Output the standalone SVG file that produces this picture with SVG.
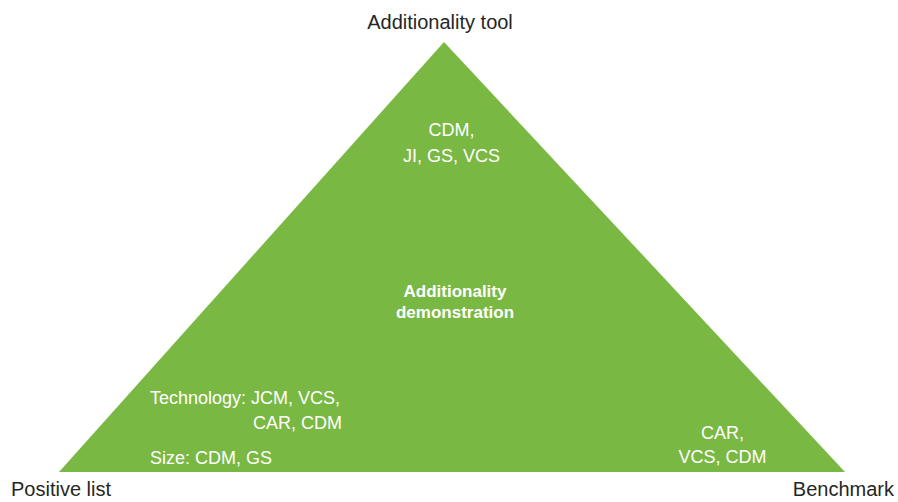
<svg xmlns="http://www.w3.org/2000/svg" width="898" height="502" viewBox="0 0 898 502">
<style>
.lbl{font-family:"Liberation Sans",Arial,sans-serif;font-size:20px;fill:#262626}
.w{font-family:"Liberation Sans",Arial,sans-serif;font-size:18px;fill:#ffffff}
.b{font-family:"Liberation Sans",Arial,sans-serif;font-size:17px;font-weight:bold;fill:#ffffff}
</style>
<rect width="898" height="502" fill="#ffffff"/>
<g id="triangle">
<polygon points="444,42 845,472 59,472" fill="#7ab844"/>
</g>
<g id="corner-labels">
<text class="lbl" x="440" y="29" text-anchor="middle">Additionality tool</text>
<text class="lbl" x="11" y="496">Positive list</text>
<text class="lbl" x="894" y="496" text-anchor="end">Benchmark</text>
</g>
<g id="top-text">
<text class="w" x="451.5" y="136" text-anchor="middle">CDM,</text>
<text class="w" x="451.5" y="162" text-anchor="middle">JI, GS, VCS</text>
</g>
<g id="center-text">
<text class="b" x="455" y="297" text-anchor="middle">Additionality</text>
<text class="b" x="455" y="318" text-anchor="middle">demonstration</text>
</g>
<g id="left-text">
<text class="w" x="150" y="404">Technology: JCM, VCS,</text>
<text class="w" x="342" y="429" text-anchor="end">CAR, CDM</text>
<text class="w" x="150" y="464">Size: CDM, GS</text>
</g>
<g id="right-text">
<text class="w" x="722.5" y="439" text-anchor="middle">CAR,</text>
<text class="w" x="722.5" y="463" text-anchor="middle">VCS, CDM</text>
</g>
</svg>
